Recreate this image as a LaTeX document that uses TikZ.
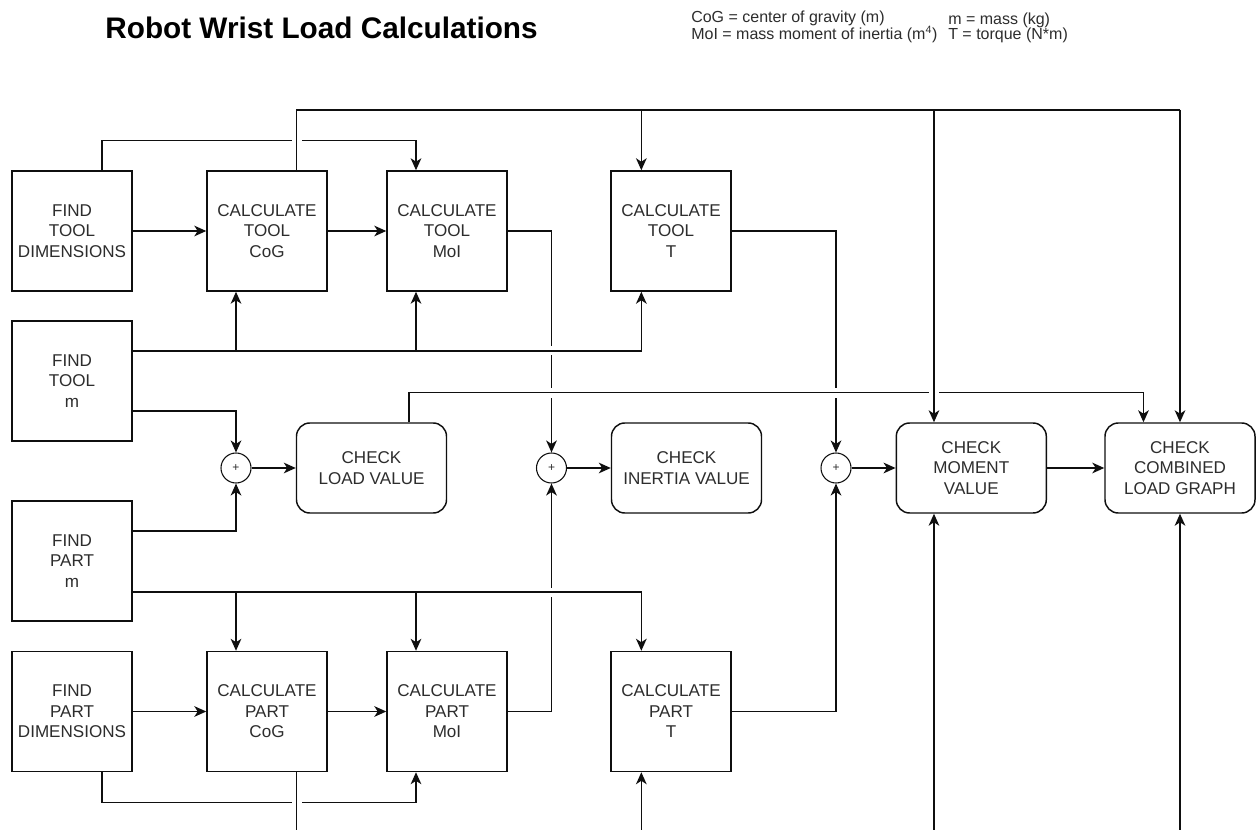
\documentclass[tikz,border=0pt]{standalone}
\usepackage{fontspec}
\setmainfont{Liberation Sans}
\usetikzlibrary{arrows.meta}
\definecolor{txt}{RGB}{45,45,45}
\definecolor{ln}{RGB}{15,15,15}
\begin{document}
\begin{tikzpicture}[x=0.75pt,y=-0.75pt,
 box/.style={draw=ln, line width=1.1pt, minimum width=90pt, minimum height=90pt, inner sep=0pt, align=center, text=txt, font=\fontsize{12.8}{15.4}\selectfont},
 chk/.style={box, rounded corners=10pt, minimum width=112.5pt, minimum height=67.5pt},
 sum/.style={draw=ln, line width=0.8pt, circle, minimum size=22.5pt, inner sep=0pt, text=txt, font=\fontsize{9}{9}\selectfont},
 wire/.style={draw=ln, line width=1.1pt},
 arr/.style={wire, -{Stealth[length=9pt,width=8pt,inset=2.6pt]}},
 gap/.style={fill=white, draw=none},
 leg/.style={anchor=base west, inner sep=0pt, text=txt, font=\fontsize{12}{14}\selectfont},
]
\fill[white] (0,0) rectangle (1256,830);
\useasboundingbox (0,0) rectangle (1256,830);

% title and legend
\node[anchor=base, inner sep=0pt, font=\fontsize{22.3}{26}\selectfont\bfseries] (title) at (321.5,38.3) {Robot Wrist Load Calculations};
\node[leg] (l1) at (691,22.7) {CoG = center of gravity (m)};
\node[leg] (l2) at (691,39.5) {MoI = mass moment of inertia (m\textsuperscript{4})};
\node[leg] (l3) at (948,25) {m = mass (kg)};
\node[leg] (l4) at (948,39.5) {T = torque (N*m)};

% boxes
\node[box] (ftd) at (72,231) {FIND\\TOOL\\DIMENSIONS};
\node[box] (tcog) at (267,231) {CALCULATE\\TOOL\\CoG};
\node[box] (tmoi) at (447,231) {CALCULATE\\TOOL\\MoI};
\node[box] (tt) at (671,231) {CALCULATE\\TOOL\\T};
\node[box] (ftm) at (72,381) {FIND\\TOOL\\m};
\node[box] (fpm) at (72,561) {FIND\\PART\\m};
\node[box] (fpd) at (72,711.5) {FIND\\PART\\DIMENSIONS};
\node[box] (pcog) at (267,711.5) {CALCULATE\\PART\\CoG};
\node[box] (pmoi) at (447,711.5) {CALCULATE\\PART\\MoI};
\node[box] (pt) at (671,711.5) {CALCULATE\\PART\\T};

\node[sum] (s1) at (236,468) {+};
\node[sum] (s2) at (551.5,468) {+};
\node[sum] (s3) at (836,468) {+};

\node[chk] (cl) at (371.5,468) {CHECK\\LOAD VALUE};
\node[chk] (ci) at (686.5,468) {CHECK\\INERTIA VALUE};
\node[chk] (cm) at (971.3,468) {CHECK\\MOMENT\\VALUE};
\node[chk] (cc) at (1180,468) {CHECK\\COMBINED\\LOAD GRAPH};

% --- connectors that are interrupted by others (drawn first)
\draw[arr] ([xshift=22.5pt]ftd.north) -- ++(0,-30) -| ([xshift=-23.25pt]tmoi.north);
\draw[arr] (tmoi.east) -| (s2.north);
\draw[arr] (tt.east) -| (s3.north);
\draw[arr] (pmoi.east) -| (s2.south);
\draw[arr] ([xshift=22.5pt]fpd.south) -- ++(0,30.2) -| ([xshift=-23.25pt]pmoi.south);
% gaps
\fill[gap] (291.6,137.5) rectangle (301.6,144.5);
\fill[gap] (548,346.5) rectangle (555,355.5);
\fill[gap] (548,388.5) rectangle (555,397.5);
\fill[gap] (832.5,388.5) rectangle (839.5,397.5);
\fill[gap] (548,587.5) rectangle (555,596.5);
\fill[gap] (291.6,798.2) rectangle (301.6,805.2);

% load value to combined graph
\draw[arr] ([xshift=28.1pt]cl.north) -- ++(0,-30) -| ([xshift=-27.4pt]cc.north);
\fill[gap] (929,389.5) rectangle (939,396.5);

% top row
\draw[arr] (ftd) -- (tcog);
\draw[arr] (tcog) -- (tmoi);
\draw[wire] ([xshift=22.2pt]tcog.north) -- ++(0,-60.3) coordinate (tb) -- (tb -| cc.north);
\draw[arr] ([xshift=-22.25pt]tt.north) ++(0,-60.3) -- ([xshift=-22.25pt]tt.north);
\draw[arr] ([xshift=-28pt]cm.north) ++(0,-312.3) -- ([xshift=-28pt]cm.north);
\draw[arr] (cc.north) ++(0,-312.3) -- (cc.north);

% tool mass bus
\draw[arr] ([yshift=22.5pt]ftm.east) -| ([xshift=-22.25pt]tt.south);
\draw[arr] ([xshift=-23.25pt]tcog.south) ++(0,60) -- ([xshift=-23.25pt]tcog.south);
\draw[arr] ([xshift=-23.25pt]tmoi.south) ++(0,60) -- ([xshift=-23.25pt]tmoi.south);
\draw[arr] ([yshift=-22.5pt]ftm.east) -| (s1.north);

% middle
\draw[arr] ([yshift=22.5pt]fpm.east) -| (s1.south);
\draw[arr] (s1) -- (cl);
\draw[arr] (s2) -- (ci);
\draw[arr] (s3) -- (cm);
\draw[arr] (cm) -- (cc);

% part mass bus
\draw[arr] ([yshift=-23.25pt]fpm.east) -| ([xshift=-22.25pt]pt.north);
\draw[arr] ([xshift=-23.25pt]pcog.north) ++(0,-59.5) -- ([xshift=-23.25pt]pcog.north);
\draw[arr] ([xshift=-23.25pt]pmoi.north) ++(0,-59.5) -- ([xshift=-23.25pt]pmoi.north);

% bottom row
\draw[arr] (fpd) -- (pcog);
\draw[arr] (pcog) -- (pmoi);
\draw[wire] ([xshift=22.2pt]pcog.south) -- ++(0,62);
\draw[arr] (pt.east) -| (s3.south);
\draw[arr] ([xshift=-22.25pt]pt.south) ++(0,62) -- ([xshift=-22.25pt]pt.south);
\draw[arr] ([xshift=-28pt]cm.south) ++(0,320) -- ([xshift=-28pt]cm.south);
\draw[arr] (cc.south) ++(0,320) -- (cc.south);
\end{tikzpicture}
\end{document}
